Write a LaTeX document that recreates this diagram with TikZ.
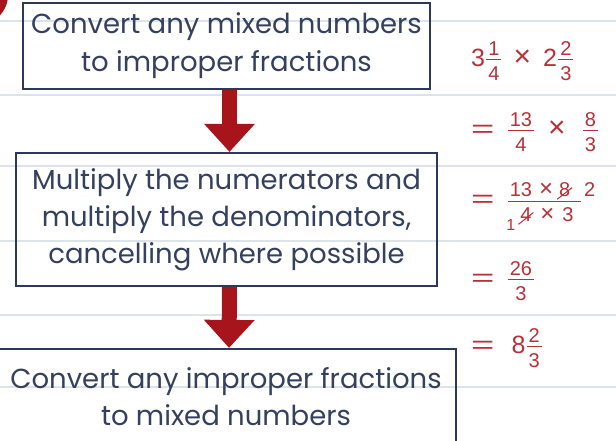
\RequirePackage{fix-cm}
\documentclass[tikz,border=0pt]{standalone}
\usepackage{amsmath,mathtools}
\usepackage{fontspec}
\setmainfont{Poppins}
\newfontfamily\sumfont{Liberation Sans}
\usetikzlibrary{arrows.meta}

\definecolor{boxnavy}{HTML}{2E3858}
\definecolor{textnavy}{HTML}{34405E}
\definecolor{arrowred}{HTML}{A8141B}
\definecolor{sumred}{HTML}{B8313A}
\definecolor{ruleblue}{HTML}{DDE3EA}
\newcommand{\sm}[1]{\text{\fontsize{20}{20}\selectfont #1}}
\newcommand{\fr}[2]{\genfrac{}{}{1pt}{1}{\sm{\kern2pt#1\kern2pt}\rule[-3pt]{0pt}{3pt}}{\rule{0pt}{19pt}\sm{#2}}}
\newcommand{\eq}{\mbox{\sumfont\fontsize{25}{25}\selectfont\scalebox{1.6}[1]{=}}}
\newcommand{\mul}{\mbox{\sumfont\fontsize{25}{25}\selectfont\scalebox{1.2}{×}}}
\newcommand{\smul}{\mbox{\sumfont\fontsize{20}{20}\selectfont\scalebox{1.2}{×}}}
\newcommand{\crossed}[1]{\ooalign{#1\cr\hidewidth\raisebox{3pt}{\rotatebox[origin=c]{38}{\rule{19pt}{1pt}}}\hidewidth}}

\tikzset{
  stepbox/.style={draw=boxnavy, line width=2.2pt, text=textnavy, align=center, inner sep=0pt, font=\fontsize{27.5}{38}\selectfont},
  downarrow/.style={draw=arrowred, line width=15pt, -{Triangle[width=49pt,length=28pt]}},
  sumline/.style={anchor=west, text=sumred, inner sep=0pt, font=\sumfont\fontsize{25}{30}\selectfont}
}

\begin{document}
\begin{tikzpicture}[x=1pt, y=-1pt]
    \useasboundingbox[fill=white](0,0)rectangle(616,440);
    % ruled paper
    \foreach \y in {21,95,166,241,315,387}
        \path[draw, ruleblue, line width=1.4pt](0,\y)to(616,\y);
    \path[fill=arrowred](-22,-5)circle[radius=30pt];
    % steps
    \node[stepbox, minimum width=407, minimum height=86](conv)at(226.5,46)
        {Convert any mixed numbers\\to improper fractions};
    \node[stepbox, minimum width=421, minimum height=133, font=\fontsize{27.5}{37}\selectfont](mult)at(226.5,219.5)
        {Multiply the numerators and\\multiply the denominators,\\cancelling where possible};
    \node[stepbox, minimum width=460, minimum height=96, font=\fontsize{27.5}{37}\selectfont](back)at(226,397)
        {Convert any improper fractions\\to mixed numbers};
    \path[downarrow]([xshift=3pt]conv.south)to([xshift=3pt]mult.north);
    \path[downarrow]([xshift=3pt]mult.south)to([xshift=3pt]back.north);
    % working
    \node[sumline](given)at(471,61)
        {$\text{3}\fr{1}{4}\hspace{11pt}\mul\hspace{12pt}\text{2}\fr{2}{3}$};
    \node[sumline](improper)at(471,132)
        {$\eq\hspace{12pt}\fr{13}{4}\hspace{13pt}\mul\hspace{16pt}\fr{8}{3}$};
    \node[sumline](cancelled)at(471,207)
        {$\eq\hspace{12pt}\genfrac{}{}{1pt}{1}{\hspace{2pt}\sm{13}\hspace{7pt}\smul\hspace{6pt}\sm{\crossed{8}}\kern11pt\mathrlap{\hspace{3pt}\sm{2}}\rule[-3pt]{0pt}{3pt}}{\rule{0pt}{19pt}\mathllap{\raisebox{-9pt}{\fontsize{16}{16}\selectfont 1}}\hspace{5pt}\sm{\crossed{4}}\hspace{9pt}\smul\hspace{8pt}\sm{3}}$};
    \node[sumline](product)at(471,281)
        {$\eq\hspace{12pt}\fr{26}{3}$};
    \node[sumline](answer)at(471,348)
        {$\eq\hspace{17pt}\text{8}\fr{2}{3}$};
\end{tikzpicture}
\end{document}
